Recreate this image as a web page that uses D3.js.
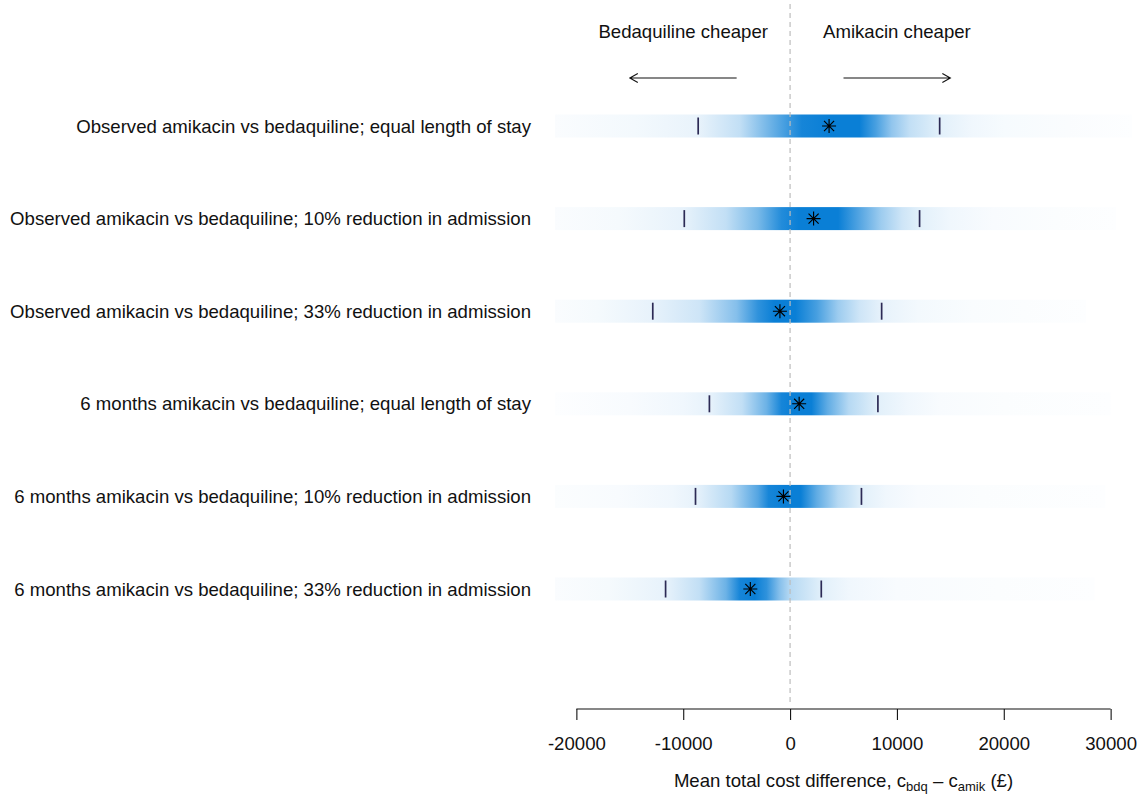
<!DOCTYPE html>
<html>
<head>
<meta charset="utf-8">
<script src="https://cdn.jsdelivr.net/npm/d3@7"></script>
<style>
  html, body { margin: 0; padding: 0; background: #ffffff; }
  svg { display: block; font-family: "Liberation Sans", Arial, sans-serif; }
</style>
</head>
<body>
<svg id="chart" width="1145" height="798"></svg>
<script>
// ---------------- data ----------------
const rowLabels = [
  "Observed amikacin vs bedaquiline; equal length of stay",
  "Observed amikacin vs bedaquiline; 10% reduction in admission",
  "Observed amikacin vs bedaquiline; 33% reduction in admission",
  "6 months amikacin vs bedaquiline; equal length of stay",
  "6 months amikacin vs bedaquiline; 10% reduction in admission",
  "6 months amikacin vs bedaquiline; 33% reduction in admission"
];
const meanDiff = [3650, 2200, -950, 850, -620, -3720];
const lower95  = [-8600, -9900, -12850, -7550, -8850, -11650];
const upper95  = [14000, 12120, 8570, 8220, 6680, 2920];
const stripMin = [-22000, -22000, -22000, -22000, -22000, -22000];
const stripMax = [32000, 30500, 27700, 30000, 29500, 28500];

// density shading along each strip: [cost difference, relative density]
const density1 = [[-22000,0.02],[-14500,0.05],[-8650,0.09],[-4700,0.25],[-1800,0.6],[1100,0.95],[3600,1],[6500,1],[8000,0.75],[9500,0.45],[11200,0.25],[14000,0.12],[17000,0.06],[20000,0.035],[26000,0.02],[32000,0.01]];
const density2 = [[-22000,0.02],[-16000,0.04],[-9950,0.1],[-6000,0.25],[-3000,0.55],[-800,0.9],[800,1],[4500,1],[6500,0.7],[8500,0.4],[10500,0.2],[12100,0.12],[15000,0.06],[19000,0.03],[25000,0.015],[30500,0.01]];
const density3 = [[-22000,0.02],[-18000,0.04],[-12900,0.1],[-8500,0.2],[-5000,0.5],[-3000,0.85],[-1500,1],[500,1],[2500,0.75],[4500,0.4],[6500,0.2],[8600,0.1],[12000,0.05],[17000,0.025],[22000,0.015],[27700,0.01]];
const density4 = [[-22000,0.01],[-15000,0.03],[-10000,0.06],[-7500,0.1],[-4500,0.25],[-2200,0.6],[-800,0.95],[200,1],[2000,1],[3500,0.65],[5500,0.3],[8200,0.12],[11000,0.06],[14000,0.03],[20000,0.015],[30000,0.01]];
const density5 = [[-22000,0.015],[-16000,0.03],[-11000,0.06],[-8800,0.1],[-5500,0.3],[-3000,0.7],[-2000,0.95],[-500,1],[1000,1],[2500,0.65],[4500,0.3],[6700,0.12],[9000,0.06],[12000,0.03],[18000,0.015],[29500,0.01]];
const density6 = [[-22000,0.02],[-17000,0.04],[-11600,0.1],[-8500,0.25],[-6000,0.6],[-4700,0.95],[-3300,1],[-2200,0.85],[-1000,0.5],[0,0.3],[3000,0.12],[5500,0.06],[10000,0.03],[19500,0.015],[28500,0.01]];
const densities = [density1, density2, density3, density4, density5, density6];

const axisTicks = [-20000, -10000, 0, 10000, 20000, 30000];
const headerLabels = ["Bedaquiline cheaper", "Amikacin cheaper"];
const headerCentres = [-10000, 10000];
const arrowFrom = [-5000, 5000];
const arrowTo = [-15000, 15000];

// ---------------- layout ----------------
const svg = d3.select("#chart");
const plotLeft = 555, plotRight = 1132;
const x = d3.scaleLinear().domain([-22000, 32000]).range([plotLeft, plotRight]);
const y = d3.scalePoint().domain(d3.range(rowLabels.length)).range([126, 589]);
const barH = 23;
const fontSize = 18.6;
const dark = "#0a7fd6";
const shade = d3.interpolateRgb("#ffffff", dark);

const defs = svg.append("defs");
defs.append("clipPath").attr("id", "plotclip")
  .append("rect").attr("x", plotLeft).attr("y", 0).attr("width", plotRight - plotLeft).attr("height", 798);

// gradients
densities.forEach((dens, i) => {
  const g = defs.append("linearGradient")
    .attr("id", "grad" + i)
    .attr("gradientUnits", "userSpaceOnUse")
    .attr("x1", x(stripMin[i])).attr("x2", x(stripMax[i]))
    .attr("y1", 0).attr("y2", 0);
  dens.forEach(([v, d]) => {
    g.append("stop")
      .attr("offset", (v - stripMin[i]) / (stripMax[i] - stripMin[i]))
      .attr("stop-color", shade(d));
  });
});

const plot = svg.append("g").attr("clip-path", "url(#plotclip)");

// strips
plot.selectAll("rect.strip").data(rowLabels).enter().append("rect")
  .attr("class", "strip")
  .attr("x", (d, i) => x(stripMin[i]))
  .attr("width", (d, i) => x(stripMax[i]) - x(stripMin[i]))
  .attr("y", (d, i) => y(i) - barH / 2)
  .attr("height", barH)
  .attr("fill", (d, i) => "url(#grad" + i + ")");

// zero reference line (drawn over strips)
svg.append("line")
  .attr("x1", x(0)).attr("x2", x(0))
  .attr("y1", 4).attr("y2", 703)
  .attr("stroke", "#bdbdbd").attr("stroke-width", 1.2)
  .attr("stroke-dasharray", "5,4");

// interval ticks
const q = [];
rowLabels.forEach((d, i) => { q.push({ i, v: lower95[i] }); q.push({ i, v: upper95[i] }); });
svg.selectAll("line.q").data(q).enter().append("line")
  .attr("class", "q")
  .attr("x1", d => x(d.v)).attr("x2", d => x(d.v))
  .attr("y1", d => y(d.i) - 8.5).attr("y2", d => y(d.i) + 8.5)
  .attr("stroke", "#2c2a55").attr("stroke-width", 1.7);

// mean asterisks
const r = 7, rd = r * 0.72;
const star = `M${-r},0L${r},0M0,${-r}L0,${r}M${-rd},${-rd}L${rd},${rd}M${-rd},${rd}L${rd},${-rd}`;
svg.selectAll("path.mean").data(meanDiff).enter().append("path")
  .attr("class", "mean")
  .attr("transform", (d, i) => `translate(${x(d)},${y(i)})`)
  .attr("d", star)
  .attr("stroke", "#000").attr("stroke-width", 1.15).attr("fill", "none");

// row labels
svg.selectAll("text.rowlab").data(rowLabels).enter().append("text")
  .attr("class", "rowlab")
  .attr("x", 531)
  .attr("y", (d, i) => y(i))
  .attr("dy", "0.35em")
  .attr("text-anchor", "end")
  .attr("font-size", fontSize)
  .attr("fill", "#111")
  .text(d => d);

// header labels
svg.selectAll("text.head").data(headerLabels).enter().append("text")
  .attr("class", "head")
  .attr("x", (d, i) => x(headerCentres[i]))
  .attr("y", 38)
  .attr("text-anchor", "middle")
  .attr("font-size", fontSize)
  .attr("fill", "#111")
  .text(d => d);

// arrows
const ay = 78, ah = 8, aw = 4.6;
arrowFrom.forEach((f, i) => {
  const x0 = x(f), x1 = x(arrowTo[i]);
  const dir = x1 > x0 ? 1 : -1;
  svg.append("path")
    .attr("d", `M${x0},${ay}L${x1},${ay}M${x1 - dir * ah},${ay - aw}L${x1},${ay}L${x1 - dir * ah},${ay + aw}`)
    .attr("stroke", "#111").attr("stroke-width", 1.1).attr("fill", "none");
});

// x axis
const axisY = 709;
const axisG = svg.append("g").attr("transform", `translate(0,${axisY})`)
  .call(d3.axisBottom(x).tickValues(axisTicks).tickSize(11).tickPadding(17).tickFormat(d => String(d)));
axisG.select(".domain").remove();
axisG.selectAll(".tick line").attr("stroke", "#111").attr("stroke-width", 1.1);
axisG.selectAll(".tick text").attr("font-size", fontSize).attr("fill", "#111")
  .attr("font-family", "'Liberation Sans', Arial, sans-serif");
axisG.append("line")
  .attr("x1", x(axisTicks[0])).attr("x2", x(axisTicks[axisTicks.length - 1]))
  .attr("y1", 0).attr("y2", 0)
  .attr("stroke", "#111").attr("stroke-width", 1.1);

// axis title
const title = svg.append("text")
  .attr("x", (plotLeft + plotRight) / 2)
  .attr("y", 787)
  .attr("text-anchor", "middle")
  .attr("font-size", fontSize)
  .attr("fill", "#111");
title.append("tspan").text("Mean total cost difference, c");
title.append("tspan").attr("font-size", 13).attr("dy", 4).text("bdq");
title.append("tspan").attr("dy", -4).text(" \u2013 c");
title.append("tspan").attr("font-size", 13).attr("dy", 4).text("amik");
title.append("tspan").attr("dy", -4).text(" (\u00a3)");
</script>
</body>
</html>
